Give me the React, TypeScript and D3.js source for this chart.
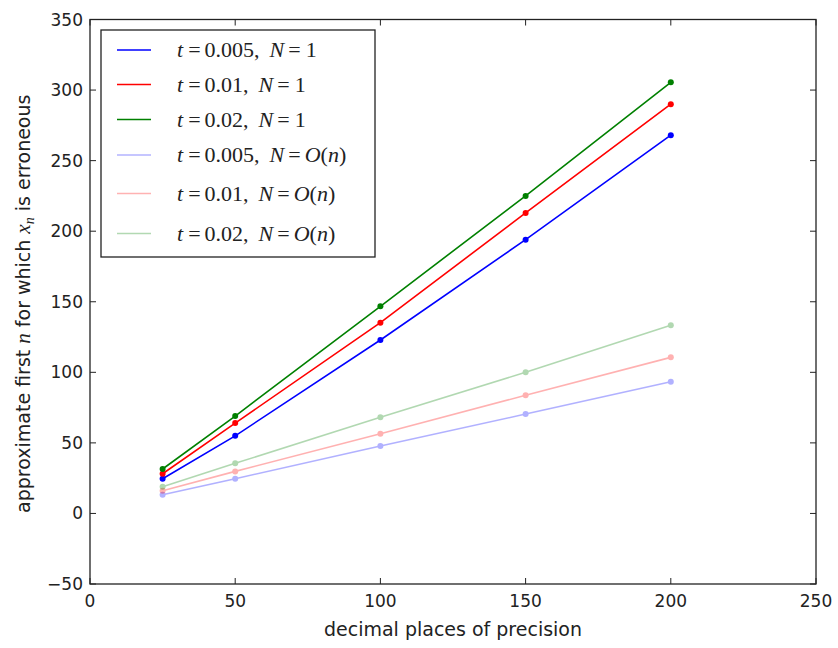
import React from "react";
import * as d3 from "d3";

const precision = [25, 50, 100, 150, 200];
const seriesNames = ["t=0.005, N=1", "t=0.01, N=1", "t=0.02, N=1", "t=0.005, N=O(n)", "t=0.01, N=O(n)", "t=0.02, N=O(n)"];
const tVals = ["0.005", "0.01", "0.02", "0.005", "0.01", "0.02"];
const nLabels = ["1", "1", "1", "O(n)", "O(n)", "O(n)"];
const blueN1 = [24.6, 55, 122.9, 194, 268];
const redN1 = [28.1, 64, 135.2, 212.9, 290];
const greenN1 = [31.5, 69, 146.8, 225, 305.5];
const blueOn = [13.3, 24.6, 47.8, 70.4, 93.3];
const redOn = [16.1, 29.8, 56.5, 83.7, 110.6];
const greenOn = [18.9, 35.5, 68.1, 100, 133.3];
const allSeries = [blueN1, redN1, greenN1, blueOn, redOn, greenOn];
const colors = ["#0000ff", "#ff0000", "#008000", "#0000ff", "#ff0000", "#008000"];
const alphas = [1, 1, 1, 0.3, 0.3, 0.3];
const xTicks = [0, 50, 100, 150, 200, 250];
const yTicks = [-50, 0, 50, 100, 150, 200, 250, 300, 350];

const W = 838, H = 648;
const L = 90, R = 816, T = 19.5, B = 584;

export default function App() {
  const x = d3.scaleLinear().domain([0, 250]).range([L, R]);
  const y = d3.scaleLinear().domain([-50, 350]).range([B, T]);
  const line = d3.line<number>().x((_, i) => x(precision[i])).y(d => y(d));
  const tick = 6;
  const legendRows = [50, 84.5, 119.5, 155, 193.5, 233.5];
  const mathFont = "'Liberation Serif', 'DejaVu Serif', serif";
  const sans = "'DejaVu Sans', sans-serif";
  return (
    <svg width={W} height={H} style={{ position: "absolute", left: 0, top: 0 }}>
      <rect x={0} y={0} width={W} height={H} fill="#fff" />
      {allSeries.map((s, k) => (
        <g key={k} opacity={alphas[k]}>
          <path d={line(s) || ""} fill="none" stroke={colors[k]} strokeWidth={1.6} />
          {s.map((v, i) => (
            <circle key={i} cx={x(precision[i])} cy={y(v)} r={3} fill={colors[k]} />
          ))}
        </g>
      ))}
      <rect x={L} y={T} width={R - L} height={B - T} fill="none" stroke="#222" strokeWidth={1.3} />
      {xTicks.map(t => (
        <g key={"x" + t}>
          <line x1={x(t)} x2={x(t)} y1={B} y2={B - tick} stroke="#222" />
          <line x1={x(t)} x2={x(t)} y1={T} y2={T + tick} stroke="#222" />
          <text x={x(t)} y={607} textAnchor="middle" fontFamily={sans} fontSize={17} fill="#222">{t}</text>
        </g>
      ))}
      {yTicks.map(t => (
        <g key={"y" + t}>
          <line x1={L} x2={L + tick} y1={y(t)} y2={y(t)} stroke="#222" />
          <line x1={R} x2={R - tick} y1={y(t)} y2={y(t)} stroke="#222" />
          <text x={L - 7} y={y(t) + 6} textAnchor="end" fontFamily={sans} fontSize={17} fill="#222">{t < 0 ? "\u2212" + Math.abs(t) : t}</text>
        </g>
      ))}
      <text x={(L + R) / 2} y={636} textAnchor="middle" fontFamily={sans} fontSize={19} fill="#222">decimal places of precision</text>
      <text transform={`translate(30,${(T + B) / 2 + 2}) rotate(-90)`} textAnchor="middle" fontFamily={sans} fontSize={19} fill="#222">
        approximate first <tspan fontFamily={mathFont} fontStyle="italic" fontSize={21}>n</tspan> for which <tspan fontFamily={mathFont} fontStyle="italic" fontSize={21}>x</tspan><tspan fontFamily={mathFont} fontStyle="italic" fontSize={14} dy={4}>n</tspan><tspan dy={-4}> is erroneous</tspan>
      </text>
      <rect x={101} y={30} width={274} height={227} fill="#fff" stroke="#222" strokeWidth={1.3} />
      {seriesNames.map((nm, k) => (
        <g key={nm}>
          <line x1={117} x2={151} y1={legendRows[k]} y2={legendRows[k]} stroke={colors[k]} strokeOpacity={alphas[k]} strokeWidth={1.6} />
          <text x={177} y={legendRows[k] + 7} fontFamily={mathFont} fontSize={22} fill="#222">
            <tspan fontStyle="italic">t</tspan>
            <tspan dx={5}>=</tspan>
            <tspan dx={4}>{tVals[k]},</tspan>
            <tspan dx={10} fontStyle="italic">N</tspan>
            <tspan dx={4}>=</tspan>
            {nLabels[k] === "1" ? (
              <tspan dx={5}>1</tspan>
            ) : (
              <>
                <tspan dx={4} fontStyle="italic">O</tspan>
                <tspan>(</tspan>
                <tspan fontStyle="italic">n</tspan>
                <tspan>)</tspan>
              </>
            )}
          </text>
        </g>
      ))}
    </svg>
  );
}
